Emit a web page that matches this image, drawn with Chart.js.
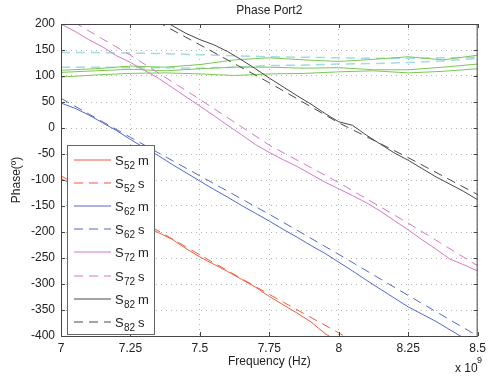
<!DOCTYPE html>
<html>
<head>
<meta charset="utf-8">
<script src="https://cdn.jsdelivr.net/npm/chart.js@4.4.1/dist/chart.umd.min.js"></script>
<style>html,body{margin:0;padding:0;background:#fff}</style>
</head>
<body>
<canvas id="chart" width="491" height="381"></canvas>
<script>
// tick labels
const freqTicks = [7, 7.25, 7.5, 7.75, 8, 8.25, 8.5];
const phaseTicks = [200, 150, 100, 50, 0, -50, -100, -150, -200, -250, -300, -350, -400];

// x positions (GHz) for the measured curves and the simulated curves
const fMeas = [7.00, 7.05, 7.10, 7.15, 7.20, 7.25, 7.30, 7.35, 7.40, 7.45, 7.50,
  7.55, 7.60, 7.65, 7.70, 7.75, 7.80, 7.85, 7.90, 7.95, 8.00,
  8.05, 8.10, 8.15, 8.20, 8.25, 8.30, 8.35, 8.40, 8.45, 8.50];
const fSim = [7, 7.25, 7.5, 7.75, 8, 8.25, 8.5];
const fFlat = [7, 7.125, 7.25, 7.375, 7.5, 7.625, 7.75, 7.875, 8, 8.125, 8.25, 8.375, 8.5];

// phase in degrees
const s52m = [-97, -112, -129, -143, -160, -174, -188, -201, -214, -232, -248,
  -262, -276, -291, -306, -324, -340, -356, -373, -395, -412];
const s52s = [-92, -167, -244, -320, -394, -470];
const s62m = [48, 38, 25, 10, -5, -22, -38, -53, -70, -86, -102,
  -118, -133, -149, -164, -179, -195, -210, -226, -241, -258,
  -275, -293, -310, -327, -344, -358, -372, -388, -404];
const s62s = [57, -18, -92, -166, -243, -322, -400];
const s72m = [200, 186, 170, 156, 139, 126, 111, 96, 78, 60, 42,
  24, 5, -13, -32, -47, -61, -74, -89, -104, -117,
  -130, -144, -160, -178, -196, -215, -233, -252, -263, -275];
const s72s = [218, 140, 55, -33, -105, -183, -265];
const s82m = [null, null, null, null, null, null, null, 212, 197, 182, 170,
  160, 147, 131, 114, 96, 79, 62, 46, 28, 12,
  5, -14, -31, -48, -62, -78, -94, -108, -122, -138];
const s82s = [232, 160, 87, 10, -57, -128];
const s82sX = [7.25, 7.5, 7.75, 8, 8.25, 8.5];

// the flat curves near 100-145 deg (not in the legend)
const greenA = [111, 114, 119, 117, 122, 131, 135, 131, 128, 132, 137, 131, 140];
const greenB = [107, 110, 113, 110, 114, 117, 117, 115, 116, 112, 112, 117, 123];
const greenC = [98, 102, 105, 106, 104, 101, 104, 105, 108, 110, 106, 109, 114];
const cyanA = [145, 145, 144, 143, 141, 139, 137, 136, 135, 134, 134, 135, 136];
const cyanB = [117, 117, 116, 116, 115, 117, 120, 121, 123, 124, 126, 129, 134];

const pts = (xs, ys) => ys.map((y, i) => ({ x: xs[i], y })).filter(p => p.y !== null);

const RED = "rgb(240,92,62)";
const BLUE = "rgb(82,104,200)";
const PINK = "rgb(214,118,204)";
const GRAY = "rgb(72,72,72)";
const GREEN = "rgb(122,200,82)";
const CYAN = "rgb(160,220,226)";
const DASH = [9, 6];

const line = (data, color, dash, extra) => Object.assign({
  data, borderColor: color, borderDash: dash, borderWidth: 1,
  pointRadius: 0, tension: 0, fill: false
}, extra);

const datasets = [
  line(pts(fMeas, s52m), RED, [], { sub: "52", kind: "m" }),
  line(pts(fSim, s52s), RED, DASH, { sub: "52", kind: "s" }),
  line(pts(fMeas, s62m), BLUE, [], { sub: "62", kind: "m" }),
  line(pts(fSim, s62s), BLUE, DASH, { sub: "62", kind: "s" }),
  line(pts(fMeas, s72m), PINK, [], { sub: "72", kind: "m" }),
  line(pts(fSim, s72s), PINK, DASH, { sub: "72", kind: "s" }),
  line(pts(fMeas, s82m), GRAY, [], { sub: "82", kind: "m" }),
  line(pts(s82sX, s82s), GRAY, DASH, { sub: "82", kind: "s" }),
  line(pts(fFlat, greenA), GREEN, []),
  line(pts(fFlat, greenB), GREEN, []),
  line(pts(fFlat, greenC), GREEN, []),
  line(pts(fFlat, cyanA), CYAN, DASH, { borderWidth: 1.5 }),
  line(pts(fFlat, cyanB), CYAN, DASH, { borderWidth: 1.5 })
];

const FONT = '"Liberation Sans", Arial, sans-serif';

// axes box with inward ticks, the boxed legend and the x10^9 exponent
const matlabLook = {
  id: "matlabLook",
  afterDatasetsDraw(chart) {
    const { ctx, chartArea: a, scales } = chart;
    ctx.save();
    ctx.strokeStyle = "#444";
    ctx.lineWidth = 1;
    ctx.setLineDash([]);
    ctx.strokeRect(a.left + 0.5, a.top + 0.5, a.right - a.left - 1, a.bottom - a.top);
    ctx.beginPath();
    freqTicks.forEach(v => {
      const x = Math.round(scales.x.getPixelForValue(v)) + 0.5;
      ctx.moveTo(x, a.bottom); ctx.lineTo(x, a.bottom - 4);
      ctx.moveTo(x, a.top); ctx.lineTo(x, a.top + 4);
    });
    phaseTicks.forEach(v => {
      const y = Math.round(scales.y.getPixelForValue(v)) + 0.5;
      ctx.moveTo(a.left, y); ctx.lineTo(a.left + 4, y);
      ctx.moveTo(a.right, y); ctx.lineTo(a.right - 4, y);
    });
    ctx.stroke();

    // legend
    const lx = 67.5, ly = 145.5, lw = 87, lh = 189;
    ctx.fillStyle = "#fff";
    ctx.fillRect(lx, ly, lw, lh);
    ctx.strokeStyle = "#666";
    ctx.strokeRect(lx, ly, lw, lh);
    let row = 0;
    chart.data.datasets.forEach((d, i) => {
      if (!d.sub) return;
      const opts = chart.getDatasetMeta(i).dataset.options;
      const y = Math.round(159.5 + row * 23.2);
      row++;
      ctx.lineWidth = 1.2;
      ctx.strokeStyle = opts.borderColor;
      ctx.setLineDash(opts.borderDash || []);
      ctx.beginPath(); ctx.moveTo(74, y); ctx.lineTo(111, y); ctx.stroke();
      ctx.setLineDash([]);
      ctx.fillStyle = "#222";
      ctx.textBaseline = "alphabetic";
      ctx.font = "13px " + FONT;
      ctx.fillText("S", 115, y + 4.5);
      ctx.font = "10px " + FONT;
      ctx.fillText(d.sub, 124, y + 8.5);
      ctx.font = "13px " + FONT;
      ctx.fillText(d.kind, 138, y + 4.5);
    });

    // exponent of the frequency axis
    ctx.fillStyle = "#222";
    ctx.font = "12px " + FONT;
    ctx.fillText("x 10", 455, 372);
    ctx.font = "9px " + FONT;
    ctx.fillText("9", 477, 363);
    ctx.restore();
  }
};

new Chart(document.getElementById("chart"), {
  type: "line",
  data: { datasets },
  plugins: [matlabLook],
  options: {
    responsive: false,
    animation: false,
    layout: { padding: { right: 9 } },
    font: { family: FONT },
    plugins: {
      legend: { display: false },
      tooltip: { enabled: false }
    },
    scales: {
      x: {
        type: "linear",
        min: 7,
        max: 8.5,
        afterBuildTicks: s => { s.ticks = freqTicks.map(value => ({ value })); },
        afterFit: s => { s.height = 45; },
        ticks: {
          color: "#222",
          padding: 5,
          maxRotation: 0,
          font: { family: FONT, size: 12 },
          callback: v => String(+v.toFixed(2))
        },
        grid: { color: "#b4b4b4", drawTicks: false },
        border: { display: false, dash: [1, 4] },
        title: {
          display: true,
          text: "Frequency (Hz)",
          color: "#222",
          font: { family: FONT, size: 12 },
          padding: { top: 0, bottom: 12 }
        }
      },
      // top axis only carries the chart title, centred over the plot
      top: {
        type: "linear",
        position: "top",
        min: 7,
        max: 8.5,
        afterFit: s => { s.height = 24; },
        ticks: { display: false },
        grid: { display: false, drawTicks: false },
        border: { display: false },
        title: {
          display: true,
          text: "Phase Port2",
          color: "#222",
          font: { family: FONT, size: 12 },
          padding: { top: 3, bottom: 0 }
        }
      },
      y: {
        min: -400,
        max: 200,
        afterBuildTicks: s => { s.ticks = phaseTicks.map(value => ({ value })); },
        afterFit: s => { s.width = 61; },
        ticks: {
          color: "#222",
          padding: 6,
          font: { family: FONT, size: 12 },
          callback: v => String(v)
        },
        grid: { color: "#b4b4b4", drawTicks: false },
        border: { display: false, dash: [1, 4] },
        title: {
          display: true,
          text: "Phase(º)",
          color: "#222",
          font: { family: FONT, size: 12 },
          padding: { top: 9, bottom: 0 }
        }
      }
    }
  }
});
</script>
</body>
</html>
